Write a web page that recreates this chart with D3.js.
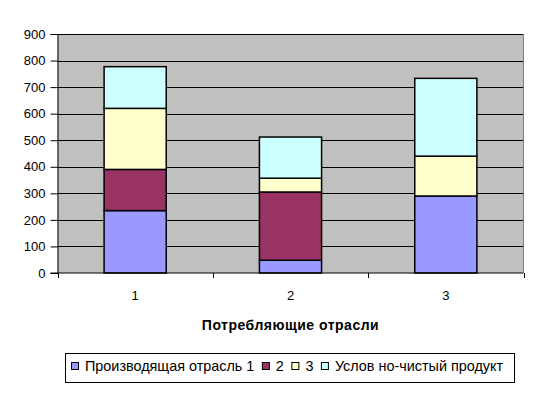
<!DOCTYPE html>
<html><head><meta charset="utf-8">
<script src="https://cdn.jsdelivr.net/npm/d3@7/dist/d3.min.js"></script>
<style>body{margin:0;background:#fff}svg{display:block}text{font-family:"Liberation Sans",Arial,sans-serif}</style>
</head><body>
<script>
const categories = ["1","2","3"];
const legendLabels = ["Производящая отрасль 1","2","3","Услов но-чистый продукт"];
const s1 = [235, 48, 290];
const s2 = [155, 257, 0];
const s3 = [230, 52, 150];
const s4 = [157, 155, 293];
const colors = ["#9999FF","#993366","#FFFFCC","#CCFFFF"];
const yTicks = [0,100,200,300,400,500,600,700,800,900];
const xTitle = "Потребляющие отрасли";

const W=543,H=393;
const svg=d3.select("body").append("svg").attr("width",W).attr("height",H);
const m={l:57.5,r:523.5,t:34,b:273};
const x=d3.scaleBand().domain(categories).range([m.l,m.r]).paddingInner(0.6).paddingOuter(0.3);
const y=d3.scaleLinear().domain([0,900]).range([m.b,m.t]);

svg.append("rect").attr("x",m.l).attr("y",m.t).attr("width",m.r-m.l).attr("height",m.b-m.t).attr("fill","#C0C0C0");
svg.append("g").selectAll("line").data(yTicks.filter(d=>d>0)).join("line")
 .attr("x1",m.l).attr("x2",m.r).attr("y1",d=>Math.round(y(d))+0.5).attr("y2",d=>Math.round(y(d))+0.5)
 .attr("stroke","#000").attr("stroke-width",1);
svg.append("line").attr("x1",m.r).attr("x2",m.r).attr("y1",m.t).attr("y2",m.b).attr("stroke","#808080");

const data=categories.map((c,i)=>({c,v:[s1[i],s2[i],s3[i],s4[i]]}));
const stack=d3.stack().keys([0,1,2,3]).value((d,k)=>d.v[k]);
const layers=stack(data);
layers.forEach((L,k)=>{
  svg.append("g").selectAll("rect").data(L.filter(d=>d[1]-d[0]>0)).join("rect")
   .attr("x",d=>x(d.data.c)).attr("width",x.bandwidth())
   .attr("y",d=>y(d[1])).attr("height",d=>y(d[0])-y(d[1]))
   .attr("fill",colors[k]).attr("stroke","#000").attr("stroke-width",1.5);
});

// axes
const ya=d3.axisLeft(y).tickValues(yTicks).tickSize(7).tickPadding(5).tickFormat(d3.format("d"));
const gy=svg.append("g").attr("transform",`translate(${m.l},0)`).call(ya);
gy.select(".domain").attr("stroke","#000");
gy.selectAll("text").attr("font-size",13).attr("font-family","Liberation Sans, Arial, sans-serif").attr("fill","#000");

const xb=d3.scaleBand().domain(categories).range([m.l,m.r]);
const gx=svg.append("g").attr("transform",`translate(0,${m.b})`);
gx.append("line").attr("x1",m.l-7).attr("x2",m.r).attr("stroke","#000");
gx.selectAll("line.t").data([m.l].concat(categories.map(c=>xb(c)+xb.bandwidth()))).join("line")
 .attr("x1",d=>Math.round(d)+0.5).attr("x2",d=>Math.round(d)+0.5).attr("y1",0).attr("y2",5).attr("stroke","#000");
gx.selectAll("text").data(categories).join("text").attr("x",c=>xb(c)+xb.bandwidth()/2).attr("y",27)
 .attr("text-anchor","middle").attr("font-size",13).text(c=>c);

svg.append("text").attr("x",(m.l+m.r)/2).attr("y",330).attr("text-anchor","middle")
 .attr("font-size",14).attr("font-weight","bold").attr("letter-spacing",0.5).text(xTitle);

// legend
const lg=svg.append("g");
lg.append("rect").attr("x",65.5).attr("y",353.5).attr("width",449).attr("height",29).attr("fill","#fff").attr("stroke","#000");
const targetW=[169,7,7,172];
let lx=71;
legendLabels.forEach((t,k)=>{
  lg.append("rect").attr("x",lx+0.5).attr("y",362.5).attr("width",7).attr("height",7).attr("fill",colors[k]).attr("stroke","#000");
  const tx=lg.append("text").attr("x",lx+14).attr("y",371).attr("font-size",14.4).text(t);
  lx+=14+tx.node().getComputedTextLength()+7.5;
});
</script>
</body></html>
